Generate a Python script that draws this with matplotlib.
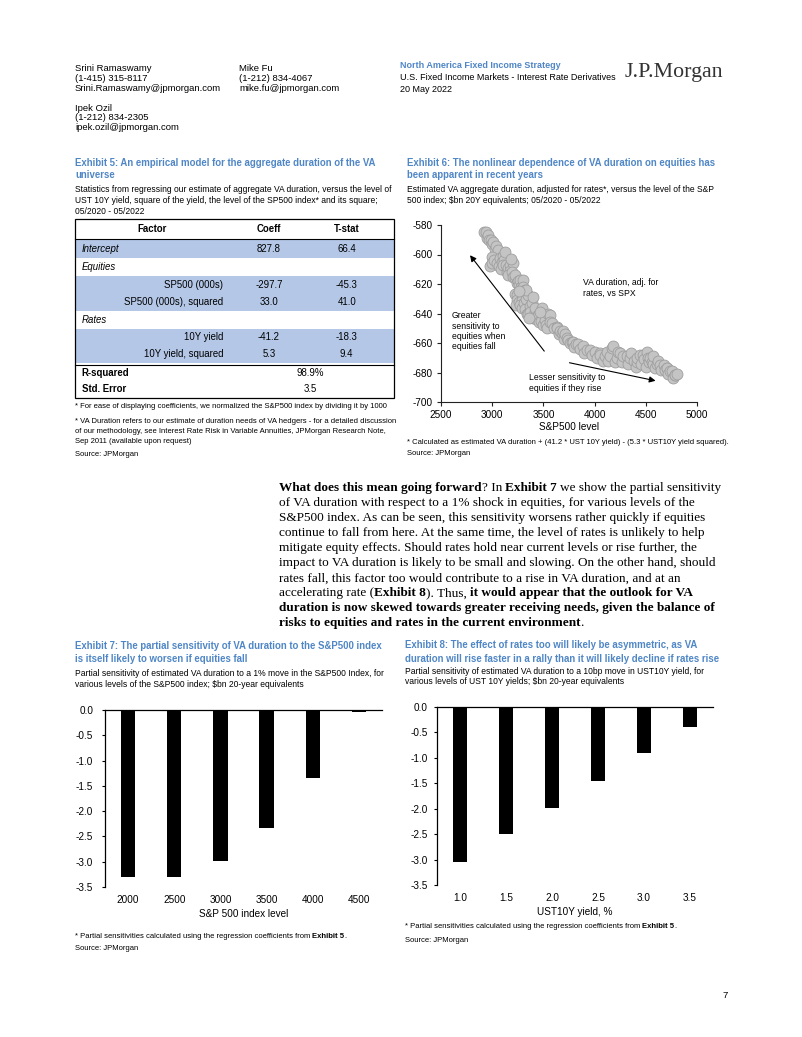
import matplotlib
matplotlib.use("Agg")
import matplotlib.pyplot as plt
from matplotlib.font_manager import FontProperties, findfont
from matplotlib.patches import Rectangle
from matplotlib.ticker import FormatStrFormatter, MultipleLocator

# ---------------- data ----------------
# Exhibit 5 regression table
table_factors = ["Intercept", "Equities", "SP500 (000s)", "SP500 (000s), squared",
                 "Rates", "10Y yield", "10Y yield, squared"]
table_coeff = ["827.8", "", "-297.7", "33.0", "", "-41.2", "5.3"]
table_tstat = ["66.4", "", "-45.3", "41.0", "", "-18.3", "9.4"]
table_kind = ["group", "group", "item", "item", "group", "item", "item"]
table_shaded = [True, False, True, True, False, True, True]
r_squared = "98.9%"
std_error = "3.5"

# Exhibit 6 scatter: S&P500 level vs VA duration adj. for rates
spx_level = [2920, 2935, 2945, 2955, 2970, 2985, 3000, 3011, 3025, 3040, 3050, 3060,
             2995, 2980, 3001, 3020, 3045, 3070, 3076, 3090, 3095, 3105, 3120, 3125,
             3108, 3137, 3140, 3157, 3170, 3175, 3206, 3154, 3190, 3200, 3219, 3223,
             3240, 3252, 3260, 3271, 3280, 3284, 3300, 3301, 3304, 3317, 3220, 3239,
             3245, 3229, 3260, 3288, 3271, 3290, 3310, 3320, 3333, 3340, 3353, 3366,
             3386, 3390, 3350, 3369, 3399, 3415, 3418, 3430, 3448, 3450, 3460, 3483,
             3480, 3500, 3516, 3529, 3540, 3548, 3562, 3562, 3581, 3600, 3628, 3630,
             3650, 3660, 3679, 3694, 3700, 3709, 3728, 3742, 3760, 3777, 3791, 3800,
             3820, 3840, 3860, 3889, 3900, 3923, 3954, 3970, 4003, 4020, 4052, 4053,
             4080, 4100, 4118, 4130, 4150, 4167, 4183, 4200, 4216, 4230, 4250, 4270,
             4281, 4313, 4330, 4346, 4360, 4380, 4400, 4411, 4412, 4444, 4450, 4470,
             4480, 4500, 4510, 4524, 4530, 4542, 4560, 4573, 4575, 4590, 4610, 4624,
             4639, 4650, 4673, 4690, 4704, 4706, 4720, 4740, 4755, 4770, 4785, 4788,
             4800, 3330, 3400, 3360, 3470, 3260, 3180]
va_duration_adj = [-584.5, -585, -589, -587, -590, -590, -593, -591.3, -596, -594, -600, -597,
                   -601.5, -608, -606, -604, -606, -608, -602.6, -610, -605, -601, -604, -598,
                   -607, -607, -612, -609.4, -607, -611, -606, -614, -612, -615, -616, -614,
                   -619, -618, -621, -617.3, -626, -622, -628, -617, -621.8, -624, -627, -627.5,
                   -631, -634, -632, -630.9, -634, -636, -633, -637, -630, -640, -627.5, -635,
                   -633, -641, -640, -638.8, -643, -639, -636.5, -644, -641, -642, -646, -636.5,
                   -645, -648, -644.4, -648, -650, -640, -641, -646, -646.6, -650, -649, -650,
                   -654, -652, -653.4, -652, -657, -654, -656.8, -658, -660, -659, -659, -663,
                   -661, -661, -664, -662, -667, -665, -665, -668, -666, -670, -667, -668,
                   -672, -669, -666, -672, -669, -663.6, -662, -673, -670, -666, -667, -673,
                   -669, -669, -674, -670, -667, -672, -676, -673, -670, -668, -674, -668,
                   -671, -676, -666, -670, -673, -670, -673, -674, -669, -677, -674, -672,
                   -675, -678, -675, -678, -677, -677, -681, -679, -679, -684, -682, -682,
                   -681, -624, -629, -643, -639, -625, -603]

# Exhibit 7 bars
exh7_levels = ["2000", "2500", "3000", "3500", "4000", "4500"]
exh7_sens = [-3.31, -3.31, -2.99, -2.34, -1.35, -0.03]

# Exhibit 8 bars
exh8_yields = ["1.0", "1.5", "2.0", "2.5", "3.0", "3.5"]
exh8_sens = [-3.04, -2.50, -1.98, -1.45, -0.91, -0.39]

# ---------------- figure ----------------
plt.rcParams["axes.unicode_minus"] = False
W, H = 802, 1037
fig = plt.figure(figsize=(W / 100, H / 100), dpi=100)
fig.patch.set_facecolor("white")
R = fig.canvas.get_renderer()

def has_font(name):
    try:
        findfont(FontProperties(family=name), fallback_to_default=False)
        return True
    except Exception:
        return False

SANS = ["Liberation Sans", "DejaVu Sans"]
SERIF = ["Liberation Serif", "DejaVu Serif"]
NARROW = ["Liberation Sans Narrow"] + SANS if has_font("Liberation Sans Narrow") else SANS
BLUE = "#4f86c6"

def tw(s, size, fam, weight="normal", style="normal"):
    fp = FontProperties(family=fam, size=size, weight=weight, style=style)
    w, h, d = R.get_text_width_height_descent(s, fp, ismath=False)
    return w

def fit(s, target, fam, weight="normal", style="normal"):
    return 10.0 * target / tw(s, 10, fam, weight, style)

# overlay axes in page pixel coordinates
pg = fig.add_axes([0, 0, 1, 1])
pg.set_xlim(0, W)
pg.set_ylim(H, 0)
pg.axis("off")

def put(x, y, s, size, fam=SANS, weight="normal", style="normal", color="black",
        ha="left", va="center"):
    return pg.text(x, y, s, fontsize=size, family=fam, fontweight=weight,
                   fontstyle=style, color=color, ha=ha, va=va, parse_math=False)

def put_segments(x, y, segs, size, fam, color="black"):
    for s, bold in segs:
        wt = "bold" if bold else "normal"
        sp = tw("a a", size, fam, wt) - tw("aa", size, fam, wt)
        lead = len(s) - len(s.lstrip(" "))
        trail = len(s) - len(s.rstrip(" "))
        core = s.strip(" ")
        x += lead * sp
        if core:
            put(x, y, core, size, fam, weight=wt, color=color)
            x += tw(core, size, fam, wt)
        x += trail * sp

# ---------- font sizes ----------
fs_head = fit("Srini.Ramaswamy@jpmorgan.com", 146, SANS)
fs_head2 = fit("U.S. Fixed Income Markets - Interest Rate Derivatives", 215, SANS)
fs_title = fit("Exhibit 5: An empirical model for the aggregate duration of the VA", 303, NARROW, "bold")
fs_sub = fit("Statistics from regressing our estimate of aggregate VA duration, versus the level of", 317, NARROW)
fs_tab = fit("SP500 (000s), squared", 99, SANS)
fs_note = fit("* For ease of displaying coefficients, we normalized the S&P500 index by dividing it by 1000", 313, NARROW)
fs_body = fit("of VA duration with respect to a 1% shock in equities, for various levels of the", 414, SERIF)
fs_tick = fit("S&P500 level", 60, SANS)
fs_ann = fit("Lesser sensitivity to", 76, SANS)
fs_logo = fit("J.P.Morgan", 98, SERIF)

# ---------- header ----------
for i, s in enumerate(["Srini Ramaswamy", "(1-415) 315-8117", "Srini.Ramaswamy@jpmorgan.com"]):
    put(75, 68.3 + 10 * i, s, fs_head)
for i, s in enumerate(["Mike Fu", "(1-212) 834-4067", "mike.fu@jpmorgan.com"]):
    put(239, 68.3 + 10 * i, s, fs_head)
for i, s in enumerate(["Ipek Ozil", "(1-212) 834-2305", "ipek.ozil@jpmorgan.com"]):
    put(75, 108.3 + 9.5 * i, s, fs_head)
put(400, 65, "North America Fixed Income Strategy", fs_head2, weight="bold", color=BLUE)
put(400, 77, "U.S. Fixed Income Markets - Interest Rate Derivatives", fs_head2)
put(400, 89, "20 May 2022", fs_head2)
put(625, 72, "J.P.Morgan", fs_logo, fam=SERIF, color="#333333")

# ---------- Exhibit 5 ----------
put(75, 163.3, "Exhibit 5: An empirical model for the aggregate duration of the VA", fs_title, NARROW, "bold", color=BLUE)
put(75, 175, "universe", fs_title, NARROW, "bold", color=BLUE)
for i, s in enumerate(["Statistics from regressing our estimate of aggregate VA duration, versus the level of",
                       "UST 10Y yield, square of the yield, the level of the SP500 index* and its square;",
                       "05/2020 - 05/2022"]):
    put(75, 189 + 11.5 * i, s, fs_sub, NARROW)

TL, TR, TT, TB = 75, 394, 219, 398
x_factor, x_item, x_coeff, x_tstat = 81.7, 223.3, 269, 346.7
row_y = [248.7, 266.7, 285, 302.3, 320, 337.3, 354]
row_h = 17.6
shade = "#b4c7e7"
for y, sh in zip(row_y, table_shaded):
    if sh:
        pg.add_patch(Rectangle((TL, y - row_h / 2), TR - TL, row_h, facecolor=shade,
                               edgecolor="none", zorder=1))
pg.add_patch(Rectangle((TL, TT), TR - TL, TB - TT, facecolor="none", edgecolor="black",
                       lw=0.9, zorder=3))
pg.plot([TL, TR], [238.8, 238.8], color="black", lw=0.8, zorder=3)
pg.plot([TL, TR], [364.5, 364.5], color="black", lw=0.8, zorder=3)
put(151.7, 229.5, "Factor", fs_tab, weight="bold", ha="center")
put(x_coeff, 229.5, "Coeff", fs_tab, weight="bold", ha="center")
put(x_tstat, 229.5, "T-stat", fs_tab, weight="bold", ha="center")
for y, f, c, t, k in zip(row_y, table_factors, table_coeff, table_tstat, table_kind):
    if k == "group":
        put(x_factor, y, f, fs_tab, style="italic")
    else:
        put(x_item, y, f, fs_tab, ha="right")
    put(x_coeff, y, c, fs_tab, ha="center")
    put(x_tstat, y, t, fs_tab, ha="center")
put(x_factor, 372.7, "R-squared", fs_tab, weight="bold")
put(310, 372.7, r_squared, fs_tab, ha="center")
put(x_factor, 389.3, "Std. Error", fs_tab, weight="bold")
put(310, 389.3, std_error, fs_tab, ha="center")

for y, s in [(406.7, "* For ease of displaying coefficients, we normalized the S&P500 index by dividing it by 1000"),
             (421.7, "* VA Duration refers to our estimate of duration needs of VA hedgers - for a detailed discussion"),
             (431.7, "of our methodology, see Interest Rate Risk in Variable Annuities, JPMorgan Research Note,"),
             (441.7, "Sep 2011 (available upon request)"),
             (454, "Source: JPMorgan")]:
    put(75, y, s, fs_note, NARROW)

# ---------- Exhibit 6 ----------
put(407, 163.3, "Exhibit 6: The nonlinear dependence of VA duration on equities has", fs_title, NARROW, "bold", color=BLUE)
put(407, 175, "been apparent in recent years", fs_title, NARROW, "bold", color=BLUE)
put(407, 189, "Estimated VA aggregate duration, adjusted for rates*, versus the level of the S&P", fs_sub, NARROW)
put(407, 200.5, "500 index; $bn 20Y equivalents; 05/2020 - 05/2022", fs_sub, NARROW)

def axes_px(l, t, r, b):
    return fig.add_axes([l / W, 1 - b / H, (r - l) / W, (b - t) / H])

a6 = axes_px(441, 225, 697, 402)
a6.scatter(spx_level, va_duration_adj, s=62, facecolor="#c4c4c4", edgecolor="#9e9e9e",
           linewidths=0.6, zorder=3)
a6.set_xlim(2500, 5000)
a6.set_ylim(-700, -580)
a6.xaxis.set_major_locator(MultipleLocator(500))
a6.yaxis.set_major_locator(MultipleLocator(20))
for sp in ["top", "right"]:
    a6.spines[sp].set_visible(False)
for sp in ["left", "bottom"]:
    a6.spines[sp].set_linewidth(0.8)
    a6.spines[sp].set_color("#222222")
a6.tick_params(direction="out", length=3, width=0.8, labelsize=fs_tick, pad=3, color="#222222")
for lab in a6.get_xticklabels() + a6.get_yticklabels():
    lab.set_family(SANS)
a6.set_xlabel("S&P500 level", fontsize=fs_tick, family=SANS, labelpad=1.5)
a6.annotate("", xy=(2767, -599), xytext=(3525, -667),
            arrowprops=dict(arrowstyle="-|>", color="black", lw=0.8, mutation_scale=9))
a6.annotate("", xy=(4622, -686), xytext=(3728, -673),
            arrowprops=dict(arrowstyle="-|>", color="black", lw=0.8, mutation_scale=9))
a6.text(3890, -616, "VA duration, adj. for\nrates, vs SPX", fontsize=fs_ann, family=SANS,
        va="top", linespacing=1.25)
a6.text(2605, -638.5, "Greater\nsensitivity to\nequities when\nequities fall", fontsize=fs_ann,
        family=SANS, va="top", linespacing=1.2)
a6.text(3362, -680.5, "Lesser sensitivity to\nequities if they rise", fontsize=fs_ann,
        family=SANS, va="top", linespacing=1.25)

put(407, 442.3, "* Calculated as estimated VA duration + (41.2 * UST 10Y yield) - (5.3 * UST10Y yield squared).", fs_note, NARROW)
put(407, 453.5, "Source: JPMorgan", fs_note, NARROW)

# ---------- body text ----------
body = [
    [("What does this mean going forward", True), ("? In ", False), ("Exhibit 7", True),
     (" we show the partial sensitivity", False)],
    [("of VA duration with respect to a 1% shock in equities, for various levels of the", False)],
    [("S&P500 index. As can be seen, this sensitivity worsens rather quickly if equities", False)],
    [("continue to fall from here. At the same time, the level of rates is unlikely to help", False)],
    [("mitigate equity effects. Should rates hold near current levels or rise further, the", False)],
    [("impact to VA duration is likely to be small and slowing. On the other hand, should", False)],
    [("rates fall, this factor too would contribute to a rise in VA duration, and at an", False)],
    [("accelerating rate (", False), ("Exhibit 8", True), ("). Thus, ", False),
     ("it would appear that the outlook for VA", True)],
    [("duration is now skewed towards greater receiving needs, given the balance of", True)],
    [("risks to equities and rates in the current environment", True), (".", False)],
]
for i, segs in enumerate(body):
    put_segments(279, 488.3 + 15 * i, segs, fs_body, SERIF)

# ---------- Exhibit 7 ----------
put(75, 645.7, "Exhibit 7: The partial sensitivity of VA duration to the S&P500 index", fs_title, NARROW, "bold", color=BLUE)
put(75, 659, "is itself likely to worsen if equities fall", fs_title, NARROW, "bold", color=BLUE)
put(75, 673.5, "Partial sensitivity of estimated VA duration to a 1% move in the S&P500 Index, for", fs_sub, NARROW)
put(75, 684.5, "various levels of the S&P500 index; $bn 20-year equivalents", fs_sub, NARROW)

def bar_axes(ax, cats, vals, xlabel, ypad):
    ax.bar(range(len(cats)), vals, width=0.31, color="black", zorder=3)
    ax.set_xlim(-0.5, len(cats) - 0.5)
    ax.set_ylim(-3.5, 0)
    ax.set_xticks(range(len(cats)))
    ax.set_xticklabels(cats)
    ax.yaxis.set_major_locator(MultipleLocator(0.5))
    ax.yaxis.set_major_formatter(FormatStrFormatter("%.1f"))
    ax.spines["bottom"].set_visible(False)
    ax.spines["right"].set_visible(False)
    ax.spines["top"].set_linewidth(0.9)
    ax.spines["left"].set_linewidth(0.9)
    ax.tick_params(axis="x", length=0, pad=6, labelsize=fs_tick)
    ax.tick_params(axis="y", direction="out", length=2.5, width=0.8, pad=ypad, labelsize=fs_tick)
    for lab in ax.get_xticklabels() + ax.get_yticklabels():
        lab.set_family(SANS)
    ax.set_xlabel(xlabel, fontsize=fs_tick, family=SANS, labelpad=2.5)

a7 = axes_px(105, 710, 382, 887)
bar_axes(a7, exh7_levels, exh7_sens, "S&P 500 index level", 6)
put_segments(75, 936, [("* Partial sensitivities calculated using the regression coefficients from ", False),
                       ("Exhibit 5", True), (".", False)], fs_note, NARROW)
put(75, 948.5, "Source: JPMorgan", fs_note, NARROW)

# ---------- Exhibit 8 ----------
put(405, 645, "Exhibit 8: The effect of rates too will likely be asymmetric, as VA", fs_title, NARROW, "bold", color=BLUE)
put(405, 659, "duration will rise faster in a rally than it will likely decline if rates rise", fs_title, NARROW, "bold", color=BLUE)
put(405, 671, "Partial sensitivity of estimated VA duration to a 10bp move in UST10Y yield, for", fs_sub, NARROW)
put(405, 682, "various levels of UST 10Y yields; $bn 20-year equivalents", fs_sub, NARROW)

a8 = axes_px(437, 707, 713, 885)
bar_axes(a8, exh8_yields, exh8_sens, "UST10Y yield, %", 4.3)
put_segments(405, 927, [("* Partial sensitivities calculated using the regression coefficients from ", False),
                        ("Exhibit 5", True), (".", False)], fs_note, NARROW)
put(405, 940, "Source: JPMorgan", fs_note, NARROW)

# page number
put(722, 995, "7", fs_head)

fig.savefig("out.png", dpi=100, facecolor="white")
